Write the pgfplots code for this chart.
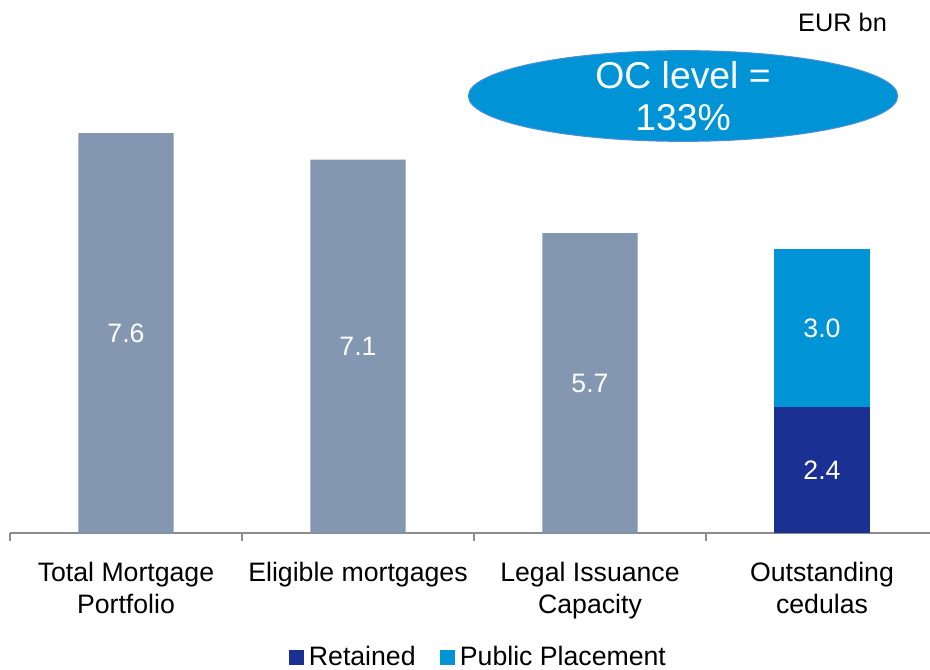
\documentclass[border=0pt]{standalone}
\usepackage{pgfplots}
\pgfplotsset{compat=1.18}
\usepackage{fontspec}
\setmainfont{Liberation Sans}

\definecolor{barGray}{HTML}{8497B0}
\definecolor{retBlue}{HTML}{1B3093}
\definecolor{pubBlue}{HTML}{0094D6}
\definecolor{ovalEdge}{HTML}{4A8FD8}
\tikzset{vlab/.style={text=white, font=\fontsize{20}{24}\selectfont}}

\begin{document}
\begin{tikzpicture}
% page = 930 x 669 px, 1px = 0.75pt
\useasboundingbox (0,0) rectangle (697.5pt,501.75pt);
\begin{axis}[
    at={(7.5pt,102pt)}, anchor=south west,
    scale only axis,
    width=696pt, height=399.75pt,
    xmin=-0.5, xmax=3.5,
    ymin=0, ymax=10.133,
    clip=false,
    ybar stacked,
    bar width=0.41,
    axis y line=none,
    axis x line*=bottom,
    x axis line style={-, draw=gray!90, line width=1.1pt},
    xtick={0,1,2,3},
    xticklabels={{Total Mortgage\\Portfolio},{Eligible mortgages},{Legal Issuance\\Capacity},{Outstanding\\cedulas}},
    major x tick style={draw=none},
    minor xtick={-0.5,0.5,1.5,2.5,3.5},
    minor x tick style={draw=gray!90, line width=1.1pt},
    minor tick length=6pt,
    tick align=outside,
    xticklabel style={font=\fontsize{20}{24}\selectfont, align=center, text=black, yshift=-14pt},
    legend columns=2,
    legend style={at={(0.505,-0.233)}, anchor=center, draw=none,
        font=\fontsize{20}{24}\selectfont,
        /tikz/every odd column/.append style={column sep=2pt},
        /tikz/every even column/.append style={column sep=16pt}},
    legend image code/.code={\fill[#1] (0pt,-5.6pt) rectangle (11.2pt,5.6pt);},
]
\addplot[fill=barGray, draw=none, forget plot] coordinates {(0,7.6) (1,7.1) (2,5.7) (3,0)};
\addplot[fill=retBlue, draw=none] coordinates {(0,0) (1,0) (2,0) (3,2.4)};
\addplot[fill=pubBlue, draw=none] coordinates {(0,0) (1,0) (2,0) (3,3.0)};
\legend{Retained, Public Placement}

\coordinate (l0) at (axis cs:0,3.8);
\coordinate (l1) at (axis cs:1,3.55);
\coordinate (l2) at (axis cs:2,2.85);
\coordinate (l3) at (axis cs:3,1.2);
\coordinate (l4) at (axis cs:3,3.9);
\coordinate (oc) at (axis cs:2.401,8.308);
\coordinate (eur) at (axis cs:3.30,9.715);
\end{axis}

\node[vlab] at (l0) {7.6};
\node[vlab] at (l1) {7.1};
\node[vlab] at (l2) {5.7};
\node[vlab] at (l3) {2.4};
\node[vlab] at (l4) {3.0};

\draw[fill=pubBlue, draw=ovalEdge, line width=0.8pt] (oc) ellipse [x radius=161pt, y radius=34pt];
\node[text=white, align=center, font=\fontsize{28}{31.5}\selectfont] at (oc) {OC level =\\133\%};
\node[anchor=east, font=\fontsize{19}{22}\selectfont] at (eur) {EUR bn};
\end{tikzpicture}
\end{document}
